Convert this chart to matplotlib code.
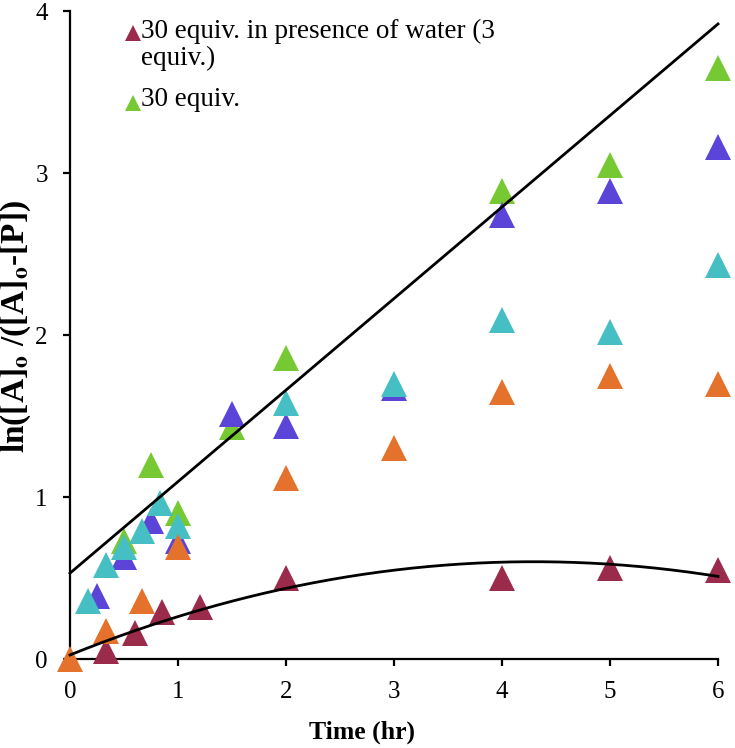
import numpy as np
import matplotlib.pyplot as plt

# data (time in hr, ln([A]0/([A]0-[P])))
water_t = [0.33, 0.6, 0.85, 1.2, 2, 4, 5, 6]
water_v = [0.05, 0.16, 0.29, 0.32, 0.50, 0.50, 0.56, 0.55]

eq30_t = [0.5, 0.75, 1.0, 1.5, 2, 4, 5, 6]
eq30_v = [0.73, 1.20, 0.90, 1.43, 1.86, 2.89, 3.05, 3.65]

blue_t = [0.25, 0.5, 0.75, 1.0, 1.5, 2, 3, 4, 5, 6]
blue_v = [0.39, 0.63, 0.85, 0.73, 1.51, 1.44, 1.67, 2.74, 2.89, 3.16]

cyan_t = [0.17, 0.33, 0.5, 0.67, 0.83, 1.0, 2, 3, 4, 5, 6]
cyan_v = [0.36, 0.58, 0.69, 0.79, 0.96, 0.82, 1.58, 1.70, 2.09, 2.02, 2.43]

orange_t = [0, 0.33, 0.67, 1.0, 2, 3, 4, 5, 6]
orange_v = [0.0, 0.17, 0.36, 0.69, 1.12, 1.30, 1.65, 1.75, 1.70]

# trendlines shown on the chart (coefficients, highest power first)
lin_fit = [0.565, 0.53]
poly_fit = [-0.0312, 0.268, 0.025]

labels = ['30 equiv. in presence of water (3\nequiv.)', '30 equiv.']

c_maroon = '#9B2B4B'
c_green = '#77C934'
c_blue = '#5A45D8'
c_cyan = '#45BFC4'
c_orange = '#E5722C'

plt.rcParams['font.family'] = ['Liberation Serif', 'DejaVu Serif']
plt.rcParams['mathtext.fontset'] = 'stix'

fig = plt.figure(figsize=(7.35, 7.48), dpi=100)
ax = fig.add_axes([70 / 735, 1 - 659 / 748, 648 / 735, 648 / 748])

ms = 18.5
for t, v, c in [(water_t, water_v, c_maroon), (eq30_t, eq30_v, c_green),
                (blue_t, blue_v, c_blue), (cyan_t, cyan_v, c_cyan),
                (orange_t, orange_v, c_orange)]:
    ax.plot(t, v, linestyle='none', marker='^', ms=ms, color=c,
            markeredgewidth=0, clip_on=False, zorder=3)

tt = np.linspace(0, 6, 200)
ax.plot(tt, np.polyval(lin_fit, tt), color='black', lw=2, zorder=4, clip_on=False)
ax.plot(tt, np.polyval(poly_fit, tt), color='black', lw=2, zorder=4, clip_on=False)

ax.set_xlim(0, 6)
ax.set_ylim(0, 4)
ax.set_xticks(range(0, 7))
ax.set_yticks(range(0, 5))
ax.spines['top'].set_visible(False)
ax.spines['right'].set_visible(False)
for s in ['left', 'bottom']:
    ax.spines[s].set_linewidth(1.6)
ax.tick_params(direction='out', length=5, width=1.6, labelsize=18)
ax.tick_params(axis='y', pad=11)
ax.tick_params(axis='x', pad=11)

ax.set_xlabel('Time (hr)', fontsize=18.5, fontweight='bold', va='center')
ax.xaxis.set_label_coords(0.451, -0.113)
ax.set_ylabel(r'ln([A]$_\mathbf{o}$ /([A]$_\mathbf{o}$-[P])', fontsize=24,
              fontweight='bold', va='center')
ax.yaxis.set_label_coords(-0.083, 0.514)

# legend drawn by hand so the marker sits on the first text line
ax.plot([0.0965], [0.966], transform=ax.transAxes, marker='^', ms=12,
        color=c_maroon, mew=0, clip_on=False)
ax.text(0.1096, 0.9475, labels[0], transform=ax.transAxes, fontsize=19.5,
        va='center', linespacing=1.1)
ax.plot([0.0965], [0.858], transform=ax.transAxes, marker='^', ms=12,
        color=c_green, mew=0, clip_on=False)
ax.text(0.1096, 0.8627, labels[1], transform=ax.transAxes, fontsize=19.5,
        va='center')

fig.savefig('out.png', dpi=100)
